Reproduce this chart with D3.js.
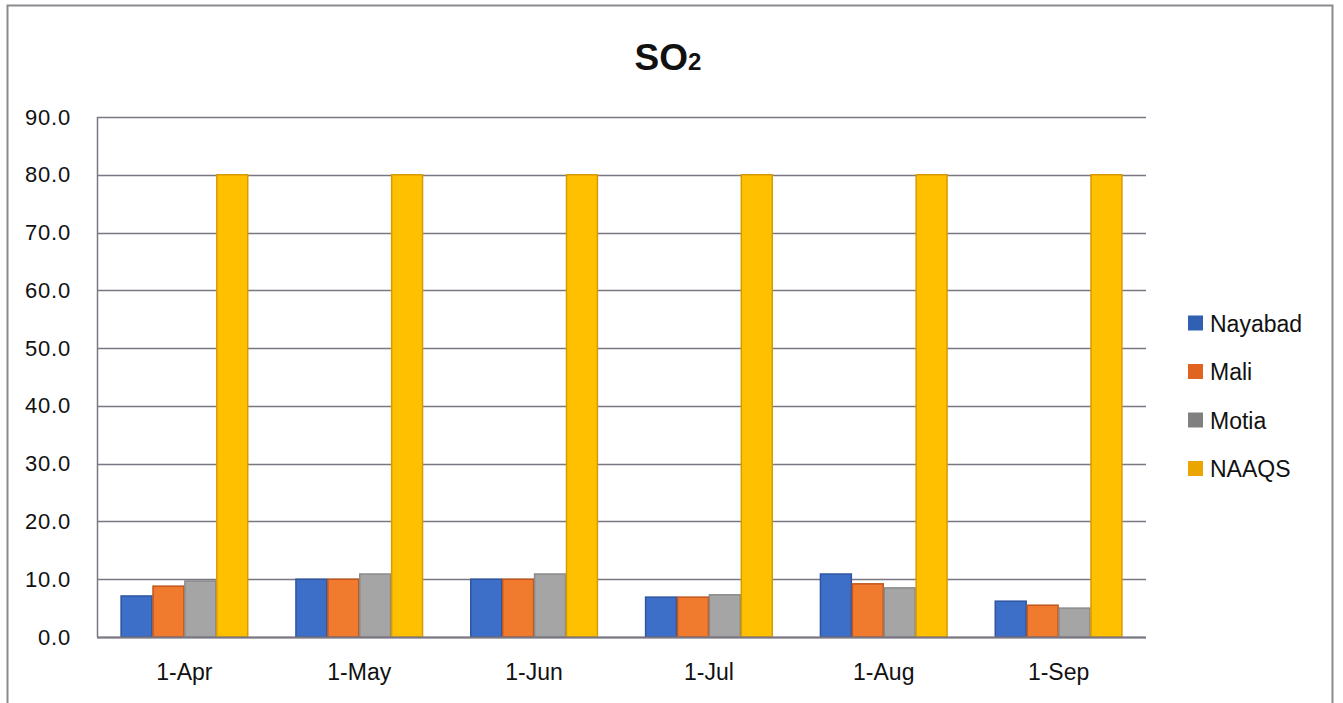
<!DOCTYPE html>
<html>
<head>
<meta charset="utf-8">
<script src="https://cdn.jsdelivr.net/npm/d3@7"></script>
<style>
  html, body { margin: 0; padding: 0; background: #fff; }
  svg text { font-family: "Liberation Sans", Arial, sans-serif; fill: #111; }
</style>
</head>
<body>
<div id="chart"></div>
<script>
// ─── data ────────────────────────────────────────────────────────────────────
const months = ["1-Apr", "1-May", "1-Jun", "1-Jul", "1-Aug", "1-Sep"];
const seriesNames = ["Nayabad", "Mali", "Motia", "NAAQS"];
const nayabad = [7.1, 10.0, 10.0, 6.9, 10.9, 6.2];
const mali    = [8.8, 10.0, 10.0, 6.9, 9.2, 5.5];
const motia   = [9.7, 10.9, 10.9, 7.3, 8.5, 5.0];
const naaqs   = [80, 80, 80, 80, 80, 80];
const yTicks  = [0, 10, 20, 30, 40, 50, 60, 70, 80, 90];

const FILLS   = ["#3d6fc9", "#f07b2f", "#a5a5a5", "#ffc000"];
const STROKES = ["#2d55a0", "#c0561c", "#8a8a8a", "#d99a00"];
const SWATCH  = ["#2f60b2", "#e0641f", "#808080", "#eba500"];
const GRID = "#7a7782";

const W = 1343, H = 703;
const plot = { left: 97, right: 1146, top: 117, bottom: 637 };

const svg = d3.select("#chart").append("svg")
    .attr("width", W).attr("height", H);

// outer frame (bottom edge runs past the picture)
svg.append("path")
    .attr("d", `M7.5,${H + 2} V5.5 H1332.5 V${H + 2}`)
    .attr("fill", "none").attr("stroke", "#8c8a90").attr("stroke-width", 2);

svg.append("text")
    .attr("x", 668).attr("y", 70)
    .attr("text-anchor", "middle")
    .style("font-weight", "bold").style("font-size", "37px")
    .text("SO")
    .append("tspan").style("font-size", "24px").text("2");

const x = d3.scaleBand().domain(months)
    .range([plot.left, plot.right]).paddingInner(0.27).paddingOuter(0.135);
const xs = d3.scaleBand().domain(seriesNames).range([0, x.bandwidth()]);
const y = d3.scaleLinear().domain([0, 90]).range([plot.bottom, plot.top]);

// gridlines
svg.append("g").selectAll("line").data(yTicks).join("line")
    .attr("x1", plot.left).attr("x2", plot.right)
    .attr("y1", d => Math.round(y(d)) + 0.5).attr("y2", d => Math.round(y(d)) + 0.5)
    .attr("stroke", GRID).attr("stroke-width", 1.5);

svg.append("line")
    .attr("x1", plot.left + 0.5).attr("x2", plot.left + 0.5)
    .attr("y1", plot.top).attr("y2", plot.bottom)
    .attr("stroke", GRID).attr("stroke-width", 1.5);

// bars
const seriesValues = [nayabad, mali, motia, naaqs];
const rows = [];
months.forEach((m, i) => {
    seriesNames.forEach((s, j) => rows.push({ m, s, j, v: seriesValues[j][i] }));
});

svg.append("g").selectAll("rect").data(rows).join("rect")
    .attr("x", d => x(d.m) + xs(d.s) + 0.5)
    .attr("width", xs.bandwidth() - 1)
    .attr("y", d => y(d.v))
    .attr("height", d => y(0) - y(d.v))
    .attr("fill", d => FILLS[d.j])
    .attr("stroke", d => STROKES[d.j]).attr("stroke-width", 1.5);

// baseline over bars
svg.append("line")
    .attr("x1", plot.left).attr("x2", plot.right)
    .attr("y1", y(0) + 0.5).attr("y2", y(0) + 0.5)
    .attr("stroke", GRID).attr("stroke-width", 2);

// y tick labels
svg.append("g").selectAll("text").data(yTicks).join("text")
    .attr("x", 71).attr("y", d => y(d) + 7.5)
    .attr("text-anchor", "end").style("font-size", "22px")
    .style("letter-spacing", "0.8px")
    .text(d => d.toFixed(1));

// x labels
svg.append("g").selectAll("text").data(months).join("text")
    .attr("x", d => x(d) + x.bandwidth() / 2).attr("y", 680)
    .attr("text-anchor", "middle").style("font-size", "23px")
    .text(d => d);

// legend
const leg = svg.append("g").selectAll("g").data(seriesNames).join("g")
    .attr("transform", (d, i) => `translate(1188,${323 + i * 48.5})`);
leg.append("rect").attr("x", 0).attr("y", -7.5).attr("width", 15).attr("height", 15)
    .attr("fill", (d, i) => SWATCH[i]);
leg.append("text").attr("x", 22).attr("y", 8.5).style("font-size", "23px").text(d => d);
</script>
</body>
</html>
